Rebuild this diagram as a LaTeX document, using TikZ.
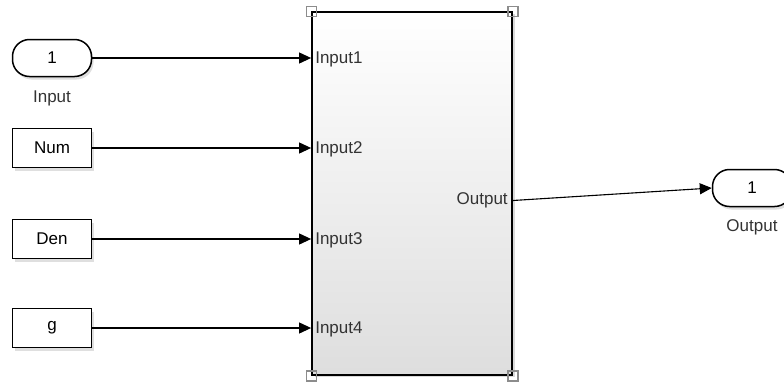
\documentclass[tikz,border=0pt]{standalone}
\usepackage{fontspec}
\setmainfont{Liberation Sans}
\usetikzlibrary{arrows.meta,positioning,shadows,calc}

\begin{document}
\begin{tikzpicture}[
  x=1pt, y=-1pt,
  blk/.style={draw, line width=1.5pt, minimum width=79pt, minimum height=39pt,
              fill=white, font=\fontsize{17}{19}\selectfont,
              drop shadow={shadow xshift=2pt, shadow yshift=-3pt, opacity=0.25}},
  port/.style={blk, minimum height=37pt, rounded corners=17pt},
  sub/.style={draw, line width=1.8pt, minimum width=200pt, minimum height=363pt,
              top color=white, bottom color=black!13,
              drop shadow={shadow xshift=3pt, shadow yshift=-2pt, opacity=0.3}},
  corner/.style={draw=black!45, line width=1.2pt, minimum size=10pt, inner sep=0pt},
  lbl/.style={font=\fontsize{17}{19}\selectfont, text=black!80, inner sep=1pt},
  ar/.style={-{Triangle[length=12pt, width=11pt]}, line width=1.1pt}
]
  \useasboundingbox (0,0) rectangle (784,381);
  % subsystem
  \node[sub] (sys) at (412,193.5) {};
  \foreach \c in {north west, north east, south west, south east}
    \node[corner] at (sys.\c) {};
  % sources
  \node[port] (inp) at (52,58) {1};
  \node[lbl, below=12pt of inp] (inplbl) {Input};
  \node[blk] (num) at (52,148) {Num};
  \node[blk] (den) at (52,239) {Den};
  \node[blk] (gain) at (52,328) {g};
  % sink
  \node[port] (outp) at (752,188) {1};
  \node[lbl, below=11pt of outp] (outplbl) {Output};
  % input points
  \coordinate (in1) at (inp -| sys.west);
  \coordinate (in2) at (num -| sys.west);
  \coordinate (in3) at (den -| sys.west);
  \coordinate (in4) at (gain -| sys.west);
  \foreach \i in {1,...,4}
    \node[lbl, anchor=west] (in\i lbl) at ($(in\i)+(3,1)$) {Input\i};
  \node[lbl, anchor=east] (outlbl) at ($(sys.east)+(-4,7)$) {Output};
  \coordinate (out1) at (outlbl.east -| sys.east);
  % connectors
  \draw[ar] (inp) -- (in1);
  \draw[ar] (num) -- (in2);
  \draw[ar] (den) -- (in3);
  \draw[ar] (gain) -- (in4);
  \draw[ar] (out1) -- (outp.west);
\end{tikzpicture}
\end{document}
